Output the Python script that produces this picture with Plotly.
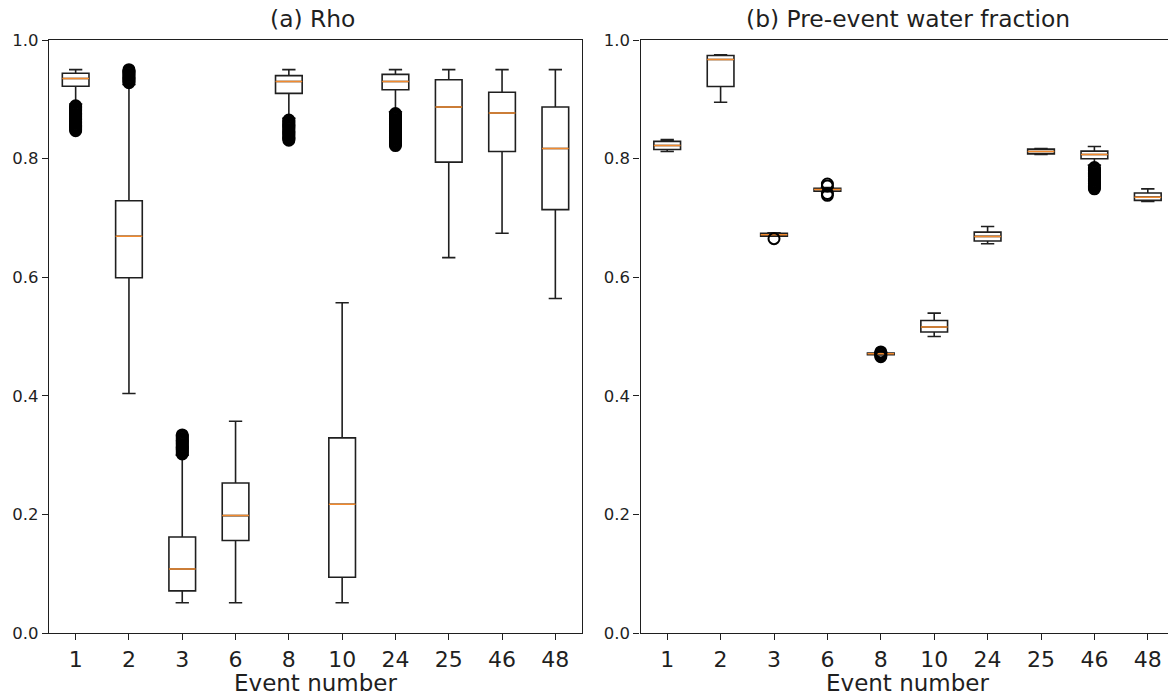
import plotly.graph_objects as go

# Event identifiers shared by both panels
events = ["1", "2", "3", "6", "8", "10", "24", "25", "46", "48"]
positions = [1, 2, 3, 4, 5, 6, 7, 8, 9, 10]

# (a) Rho: box-plot statistics per event
rho_lower = [0.892, 0.404, 0.051, 0.051, 0.868, 0.051, 0.879, 0.633, 0.674, 0.564]
rho_q1 = [0.922, 0.599, 0.071, 0.156, 0.910, 0.094, 0.916, 0.794, 0.812, 0.714]
rho_median = [0.935, 0.669, 0.108, 0.198, 0.930, 0.217, 0.930, 0.887, 0.877, 0.817]
rho_q3 = [0.944, 0.729, 0.162, 0.253, 0.940, 0.329, 0.942, 0.933, 0.912, 0.887]
rho_upper = [0.950, 0.925, 0.300, 0.357, 0.950, 0.557, 0.950, 0.950, 0.950, 0.950]

# (a) Rho: flier values per event
rho_fliers = {
    "1": [0.889, 0.887, 0.885, 0.883, 0.881, 0.879, 0.877, 0.875, 0.873,
          0.871, 0.869, 0.867, 0.865, 0.863, 0.861, 0.859, 0.857, 0.855,
          0.853, 0.851, 0.849, 0.847],
    "2": [0.928, 0.930, 0.932, 0.934, 0.936, 0.938, 0.940, 0.942, 0.944,
          0.946, 0.948, 0.950],
    "3": [0.302, 0.304, 0.306, 0.308, 0.310, 0.312, 0.314, 0.316, 0.318,
          0.320, 0.322, 0.324, 0.326, 0.328, 0.330, 0.332, 0.334],
    "8": [0.865, 0.863, 0.861, 0.859, 0.857, 0.855, 0.853, 0.851, 0.849,
          0.847, 0.845, 0.843, 0.841, 0.839, 0.837, 0.835, 0.833, 0.831],
    "24": [0.876, 0.874, 0.872, 0.870, 0.868, 0.866, 0.864, 0.862, 0.860,
           0.858, 0.856, 0.854, 0.852, 0.850, 0.848, 0.846, 0.844, 0.842,
           0.840, 0.838, 0.836, 0.834, 0.832, 0.830, 0.828, 0.826, 0.824,
           0.822],
}

# (b) Pre-event water fraction: box-plot statistics per event
pw_lower = [0.812, 0.895, 0.670, 0.744, 0.469, 0.500, 0.6565, 0.807, 0.789, 0.7277]
pw_q1 = [0.8154, 0.9216, 0.669, 0.745, 0.4695, 0.5075, 0.661, 0.808, 0.7997, 0.7295]
pw_median = [0.822, 0.967, 0.6716, 0.748, 0.471, 0.516, 0.6688, 0.812, 0.807, 0.735]
pw_q3 = [0.829, 0.9738, 0.674, 0.750, 0.472, 0.527, 0.676, 0.816, 0.8126, 0.742]
pw_upper = [0.832, 0.975, 0.675, 0.751, 0.4725, 0.5395, 0.6856, 0.817, 0.8205, 0.749]

# (b) Pre-event water fraction: flier values per event
pw_fliers = {
    "3": [0.665],
    "6": [0.738, 0.741, 0.754, 0.757],
    "8": [0.466, 0.468, 0.470, 0.472, 0.474],
    "46": [0.785, 0.783, 0.781, 0.779, 0.777, 0.775, 0.773, 0.771, 0.769,
           0.767, 0.765, 0.763, 0.761, 0.759, 0.757, 0.755, 0.753, 0.751,
           0.749],
}

FONT = "DejaVu Sans"
INK = "#1f1f1f"
MEDIAN = "#f28a2e"
LW = 1.6

fig = go.Figure()


def add_panel(lower, q1, med, q3, upper, fliers, xa, ya):
    fig.add_trace(go.Box(
        x=positions, lowerfence=lower, q1=q1, median=med, q3=q3, upperfence=upper,
        width=0.5, whiskerwidth=0.5, boxpoints=False,
        line=dict(color=INK, width=LW), fillcolor="rgba(0,0,0,0)",
        xaxis=xa, yaxis=ya, showlegend=False, hoverinfo="skip",
    ))
    # median bars drawn as flat boxes on top of each outline
    fig.add_trace(go.Box(
        x=positions, lowerfence=med, q1=med, median=med, q3=med, upperfence=med,
        width=0.5, whiskerwidth=0, boxpoints=False,
        line=dict(color=MEDIAN, width=1.5), fillcolor="rgba(0,0,0,0)",
        xaxis=xa, yaxis=ya, showlegend=False, hoverinfo="skip",
    ))
    fx, fy = [], []
    for ev, vals in fliers.items():
        p = positions[events.index(ev)]
        fx += [p] * len(vals)
        fy += vals
    fig.add_trace(go.Scatter(
        x=fx, y=fy, mode="markers",
        marker=dict(symbol="circle-open", size=11, color="black",
                    line=dict(color="black", width=2)),
        xaxis=xa, yaxis=ya, showlegend=False, hoverinfo="skip",
    ))


add_panel(rho_lower, rho_q1, rho_median, rho_q3, rho_upper, rho_fliers, "x", "y")
add_panel(pw_lower, pw_q1, pw_median, pw_q3, pw_upper, pw_fliers, "x2", "y2")

W, H = 1168, 697
ML, MT, MB = 49, 39.5, 64.3
plot_w = W - ML
left_dom = [0, (582 - ML) / plot_w]
right_dom = [(640.5 - ML) / plot_w, 1]
right_max = 0.5 + (W - 640.5) / 53.4
left_mid = sum(left_dom) / 2
right_mid = (907.5 - ML) / plot_w

xcommon = dict(
    tickmode="array", tickvals=positions, ticktext=events,
    showline=True, linecolor=INK, linewidth=1.3, mirror=True,
    ticks="outside", ticklen=6, tickwidth=1.3, tickcolor=INK,
    tickfont=dict(family=FONT, size=22, color=INK),
    showgrid=False, zeroline=False,
)
ycommon = dict(
    range=[0, 1], tickvals=[0, 0.2, 0.4, 0.6, 0.8, 1.0], tickformat=".1f",
    showline=True, linecolor=INK, linewidth=1.3,
    ticks="outside", ticklen=6, tickwidth=1.3, tickcolor=INK,
    tickfont=dict(family=FONT, size=16.5, color=INK),
    showgrid=False, zeroline=False,
)


def label(text, x, y, yanchor, yshift, size):
    return dict(text=text, x=x, y=y, xref="paper", yref="paper",
                xanchor="center", yanchor=yanchor, yshift=yshift, showarrow=False,
                borderpad=0, font=dict(family=FONT, size=size, color=INK))


fig.update_layout(
    width=W, height=H,
    margin=dict(l=ML, r=0, t=MT, b=MB, pad=0),
    paper_bgcolor="white", plot_bgcolor="white",
    boxmode="overlay",
    xaxis=dict(domain=left_dom, range=[0.5, 10.5], anchor="y", **xcommon),
    yaxis=dict(domain=[0, 1], anchor="x", mirror=True, **ycommon),
    xaxis2=dict(domain=right_dom, range=[0.5, right_max], anchor="y2", **xcommon),
    yaxis2=dict(domain=[0, 1], anchor="x2", mirror=False, **ycommon),
    annotations=[
        label("(a) Rho", left_mid - 3 / plot_w, 1, "bottom", 6, 23.4),
        label("(b) Pre-event water fraction", right_mid, 1, "bottom", 6, 23.4),
        label("Event number", left_mid, 0, "bottom", -MB, 23),
        label("Event number", right_mid, 0, "bottom", -MB, 23),
    ],
)

fig.write_html("out.html")
